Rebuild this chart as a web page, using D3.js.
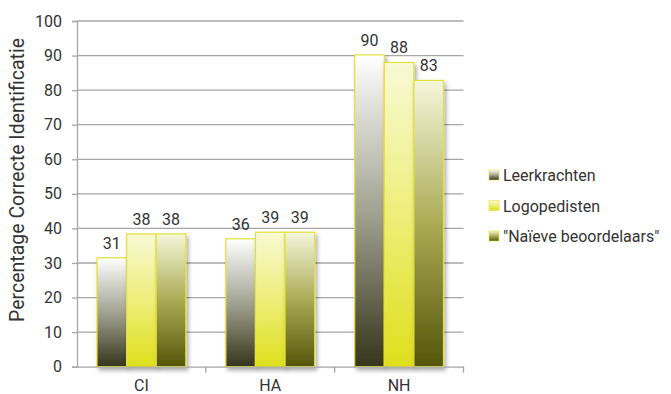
<!DOCTYPE html>
<html><head><meta charset="utf-8">
<script src="https://cdn.jsdelivr.net/npm/d3@7"></script>
<style>body{margin:0;background:#fff}svg{display:block}text{font-family:Roboto,"Liberation Sans",sans-serif;fill:#333}</style>
</head><body><svg id="c" width="671" height="394"></svg>
<script>
const categories = ["CI","HA","NH"];
const seriesNames = ["Leerkrachten","Logopedisten","\"Naïeve beoordelaars\""];
const leerkrachten = [31.5, 37, 90.2];
const logopedisten = [38.4, 38.9, 88];
const naieve = [38.4, 38.9, 82.8];
const valueLabels = [[31,36,90],[38,39,88],[38,39,83]];
const yTicks = [0,10,20,30,40,50,60,70,80,90,100];

const seriesValues = [leerkrachten, logopedisten, naieve];
const grads = [
  [["0%","#ffffff"],["50%","#a3a392"],["100%","#35351c"]],
  [["0%","#f9f9d6"],["50%","#eeee7a"],["100%","#dfdf1c"]],
  [["0%","#f6f6dc"],["50%","#abab55"],["100%","#55550a"]]
];

const svg = d3.select("#c");
const m = {l:77, t:21};
const W = 463.5-77, H = 366.7-21;
const defs = svg.append("defs");
grads.forEach((g,i)=>{
  const lg = defs.append("linearGradient").attr("id","g"+i).attr("x1",0).attr("y1",0).attr("x2",0).attr("y2",1);
  g.forEach(s=>lg.append("stop").attr("offset",s[0]).attr("stop-color",s[1]));
});
const f = defs.append("filter").attr("id","sh").attr("x","-20%").attr("y","-10%").attr("width","150%").attr("height","130%");
f.append("feDropShadow").attr("dx",2).attr("dy",3).attr("stdDeviation",2).attr("flood-color","#000").attr("flood-opacity",0.35);

const g = svg.append("g").attr("transform",`translate(${m.l},${m.t})`);
const x0 = d3.scaleBand().domain(categories).range([0,W]).padding(0);
const x1 = d3.scaleBand().domain(d3.range(3)).range([0,x0.bandwidth()]).paddingInner(0).paddingOuter(0.676);
const y = d3.scaleLinear().domain([0,100]).range([H,0]);

// gridlines
g.append("g").selectAll("line").data(yTicks.filter(d=>d>0)).join("line")
  .attr("x1",0).attr("x2",W).attr("y1",d=>y(d)).attr("y2",d=>y(d))
  .attr("stroke","#a6a6a6").attr("stroke-width",1.3);

// y axis
const ya = g.append("g").call(d3.axisLeft(y).tickValues(yTicks).tickSize(5).tickPadding(10));
ya.select(".domain").attr("stroke","#a6a6a6").attr("stroke-width",1.3);
ya.selectAll(".tick line").attr("stroke","#a6a6a6").attr("stroke-width",1.3);
ya.selectAll(".tick text").attr("font-size",16).attr("font-family","Roboto").attr("fill","#333");

// bars
const cg = g.append("g").selectAll("g").data(categories).join("g").attr("transform",d=>`translate(${x0(d)},0)`);
cg.each(function(c,ci){
  const sel = d3.select(this);
  seriesValues.forEach((vals,si)=>{
    const v = vals[ci];
    sel.append("rect").attr("x",x1(si)).attr("y",y(v)).attr("width",x1.bandwidth()).attr("height",H-y(v))
      .attr("fill",`url(#g${si})`).attr("stroke","#e2e23a").attr("stroke-width",1.2).attr("filter","url(#sh)");
  });
  seriesValues.forEach((vals,si)=>{
    sel.append("text").attr("x",x1(si)+x1.bandwidth()/2).attr("y",y(vals[ci])-9)
      .attr("text-anchor","middle").attr("font-size",16).text(valueLabels[si][ci]);
  });
});

// x axis
const xa = g.append("g").attr("transform",`translate(0,${H})`).call(d3.axisBottom(x0).tickSize(0).tickPadding(13));
xa.select(".domain").attr("stroke","#a6a6a6").attr("stroke-width",1.3);
xa.selectAll(".tick text").attr("font-size",16).attr("font-family","Roboto").attr("fill","#333");
g.append("g").selectAll("line").data(categories).join("line")
  .attr("x1",d=>x0(d)+x0.bandwidth()).attr("x2",d=>x0(d)+x0.bandwidth()).attr("y1",H).attr("y2",H+6)
  .attr("stroke","#a6a6a6").attr("stroke-width",1.3);

// y title
svg.append("text").attr("transform","translate(24,180) rotate(-90)").attr("text-anchor","middle")
  .attr("font-size",19.5).text("Percentage Correcte Identificatie");

// legend
const lg = svg.append("g").attr("transform","translate(489,0)");
seriesNames.forEach((n,i)=>{
  const yy = 175 + i*30.5;
  lg.append("rect").attr("x",0).attr("y",yy-5).attr("width",10).attr("height",10).attr("fill",`url(#g${i})`).attr("stroke","#e2e23a").attr("stroke-width",0.6);
  lg.append("text").attr("x",14).attr("y",yy+6).attr("font-size",16).text(n);
});
</script></body></html>
